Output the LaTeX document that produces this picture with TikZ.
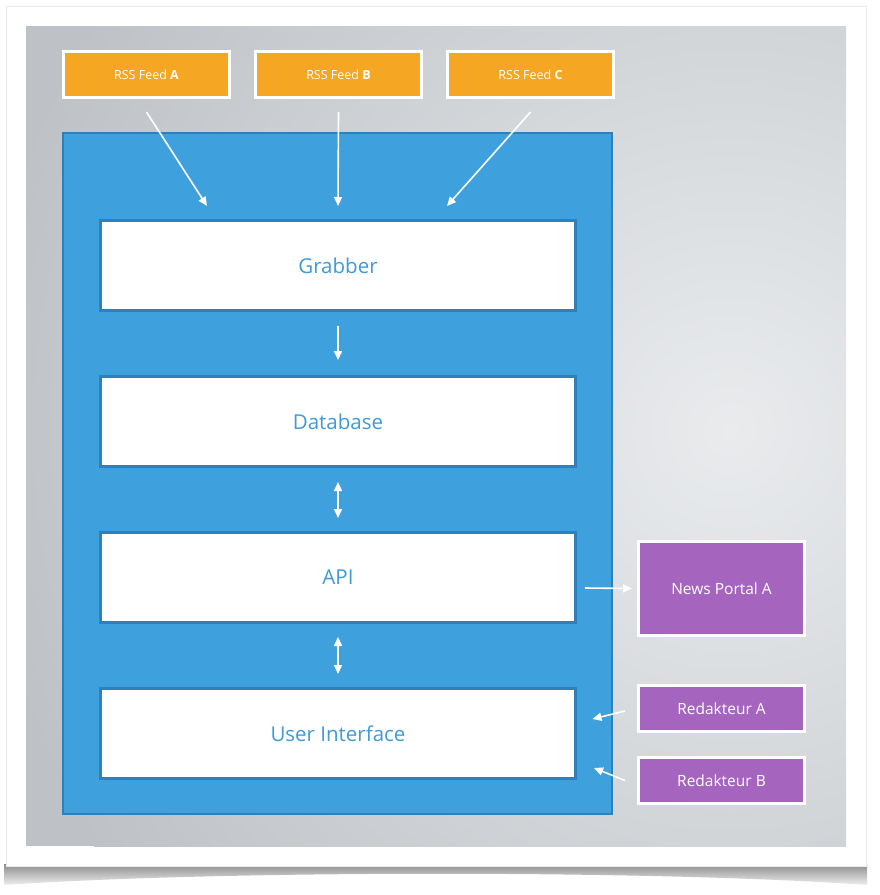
\documentclass[tikz,border=0pt]{standalone}
\usepackage{fontspec}
\setmainfont{Open Sans}
\usepackage{tikz}
\usetikzlibrary{arrows.meta}
\definecolor{feedorange}{HTML}{F5A623}
\definecolor{coreblue}{HTML}{3EA1DD}
\definecolor{coreedge}{HTML}{2F80B9}
\definecolor{textblue}{HTML}{3D9BD8}
\definecolor{clientpurple}{HTML}{A564BE}
\definecolor{bggray}{HTML}{BEC2C6}
\definecolor{bglight}{HTML}{E9EBED}
\tikzstyle{arrow} = [line width=1.6pt, white, -{Triangle[length=9pt,width=8pt]}]
\tikzstyle{dblarrow} = [line width=1.6pt, white, {Triangle[length=9pt,width=8pt]}-{Triangle[length=9pt,width=8pt]}]
\tikzstyle{feed} = [draw=white, line width=3pt, fill=feedorange, text=white, minimum width=166pt, minimum height=46pt, inner sep=0pt, font=\fontsize{12.5}{15}\selectfont]
\tikzstyle{layer} = [draw=coreedge, line width=3pt, fill=white, text=textblue, minimum width=475pt, minimum height=90pt, inner sep=0pt, font=\fontsize{20.5}{24}\selectfont]
\tikzstyle{client} = [draw=white, line width=3pt, fill=clientpurple, text=white, minimum width=166pt, minimum height=46pt, inner sep=0pt, font=\fontsize{15.5}{18}\selectfont]

\begin{document}
\begin{tikzpicture}[x=1pt, y=-1pt]
      \useasboundingbox (0,0) rectangle (880,895);
      % Frame with curled shadow
      \shade[top color=black!45, bottom color=black!6]
        (4,864) -- (4,885) .. controls (220,870) and (660,870) .. (867,885) -- (867,864) -- cycle;
      \fill[white] (6,6) rectangle (866,866);
      \draw[black!8, line width=0.6pt] (6,6) rectangle (866,866);
      % Gray background
      \begin{scope}
        \clip (26,26) rectangle (846,846);
        \fill[bggray] (26,26) rectangle (846,846);
        \shade[inner color=bglight, outer color=bggray] (730,430) circle (760);
      \end{scope}

      % Nodes
      \node[draw=coreedge, line width=2pt, fill=coreblue, minimum width=549pt, minimum height=681pt] (core) at (337.5,473.5) {};
      \node[feed] (feedA) at (146.5,74.5) {RSS Feed \textbf{A}};
      \node[feed] (feedB) at (338.5,74.5) {RSS Feed \textbf{B}};
      \node[feed] (feedC) at (530.5,74.5) {RSS Feed \textbf{C}};
      \node[layer] (grab) at (338,265.5) {Grabber};
      \node[layer] (db) at (338,421.5) {Database};
      \node[layer] (api) at (338,577.5) {API};
      \node[layer] (ui) at (338,733.5) {User Interface};
      \node[client, minimum height=94pt] (portal) at (721.5,588.5) {News Portal A};
      \node[client] (redA) at (721.5,708.5) {Redakteur A};
      \node[client] (redB) at (721.5,780.5) {Redakteur B};

      % Edges
      \draw[arrow] ([yshift=-13pt]feedA.south) -- ([xshift=-131pt,yshift=13pt]grab.north);
      \draw[arrow] ([yshift=-13pt]feedB.south) -- ([yshift=13pt]grab.north);
      \draw[arrow] ([yshift=-13pt]feedC.south) -- ([xshift=109pt,yshift=13pt]grab.north);
      \draw[arrow] ([yshift=-14pt]grab.south) -- ([yshift=15pt]db.north);
      \draw[dblarrow] ([yshift=-14pt]db.south) -- ([yshift=13pt]api.north);
      \draw[dblarrow] ([yshift=-13pt]api.south) -- ([yshift=13pt]ui.north);
      \draw[arrow] ([xshift=8pt,yshift=-10.5pt]api.east) -- ([xshift=-5pt]portal.west);
      \draw[arrow] ([xshift=-12pt,yshift=-2.5pt]redA.west) -- ([xshift=15.5pt,yshift=14.5pt]ui.east);
      \draw[arrow] ([xshift=-12pt]redB.west) -- ([xshift=17pt,yshift=-34.5pt]ui.east);
  \end{tikzpicture}
\end{document}
